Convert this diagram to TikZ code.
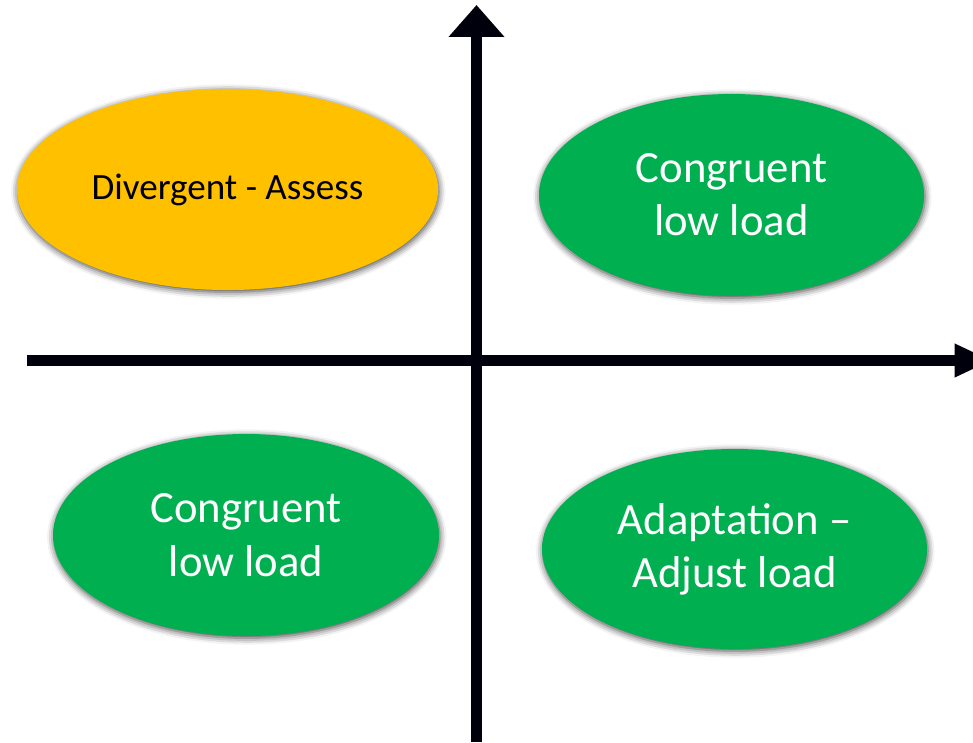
\documentclass[tikz,border=0pt]{standalone}
\usepackage{fontspec}
\setmainfont{Carlito}
\usetikzlibrary{arrows.meta,shapes.geometric,shadows.blur}
\definecolor{quadorange}{HTML}{FFC000}
\definecolor{quadgreen}{HTML}{00B050}
\begin{document}
\begin{tikzpicture}[x=0.75pt, y=-0.75pt,
    quad/.style = {ellipse, inner sep=0pt, align=center,
      blur shadow={shadow blur radius=5pt, shadow xshift=0.6pt, shadow yshift=-1.5pt, shadow opacity=75}},
    good/.style = {quad, fill=quadgreen, text=white, font=\fontsize{33.5}{40}\selectfont},
    axis/.style = {line width=8.25pt, color=black!95!blue}]
      \useasboundingbox (0, 0) rectangle (973, 742);
      \clip (0, 0) rectangle (973, 742);
      \coordinate (ybot) at (476.5, 742);
      \coordinate (ytop) at (476.5, 5);
      \coordinate (xleft) at (27, 360.5);
      \coordinate (xright) at (992, 360.5);
      \draw [axis, -{Triangle[length=24pt, width=40.5pt]}] (ybot) -- (ytop);
      \draw [axis, -{Triangle[length=28pt, width=23.25pt]}] (xleft) -- (xright);
      \node [quad, fill=quadorange, text=black, font=\fontsize{27.8}{34}\selectfont,
        minimum width=315.8pt, minimum height=150.8pt] (diverge) at (227.5, 189.5) {Divergent - Assess};
      \node [good, minimum width=288.8pt, minimum height=151.5pt] (congtop) at (731.5, 195) {Congruent\\low load};
      \node [good, minimum width=289.5pt, minimum height=151.5pt] (congbot) at (246, 535) {Congruent\\low load};
      \node [good, minimum width=288.8pt, minimum height=150pt] (adapt) at (734.5, 549) {Adaptation –\\Adjust load};
    \end{tikzpicture}
\end{document}
